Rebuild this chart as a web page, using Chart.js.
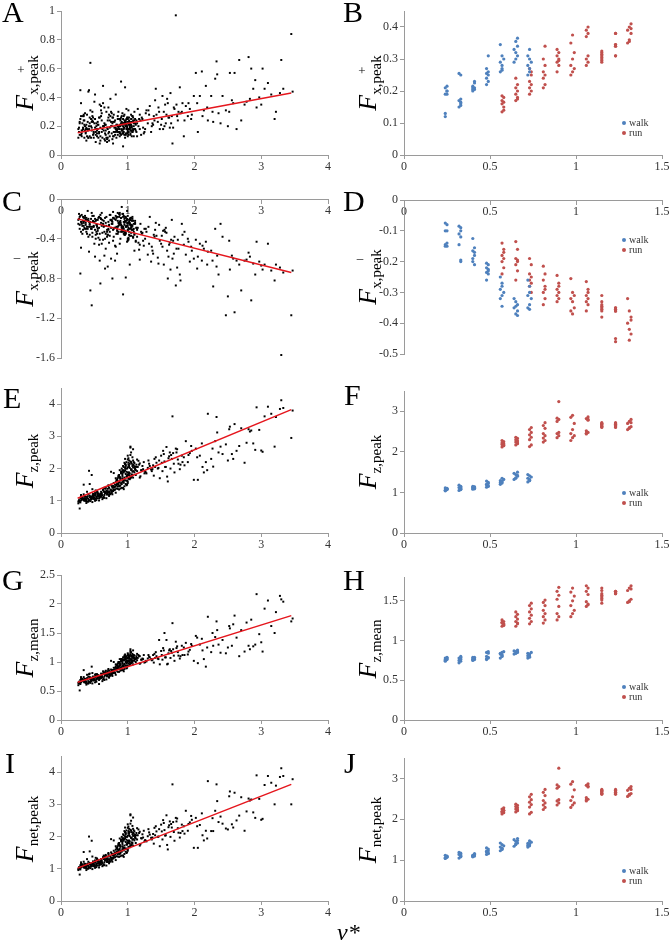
<!DOCTYPE html>
<html>
<head>
<meta charset="utf-8">
<script src="https://cdn.jsdelivr.net/npm/chart.js@4.4.1/dist/chart.umd.min.js"></script>
<style>
  body { margin: 0; width: 670px; height: 945px; position: relative; overflow: hidden; background: #fff;
         font-family: "Liberation Serif", "Times New Roman", serif; }
  canvas { position: absolute; }
  .lbl { position: absolute; font-size: 30px; line-height: 30px; color: #000; }
  .vstar { position: absolute; font-size: 24px; line-height: 30px; font-style: italic; }
  .ytitle { position: absolute; white-space: nowrap; line-height: 1; color: #000;
            transform: translate(-50%, -50%) rotate(-90deg); z-index: 2; }
  .ytitle i { font-size: 26px; }
  .ytitle span { font-size: 15px; position: relative; top: 5px; }
  .sign { position: absolute; font-size: 13px; line-height: 1; transform: translate(-50%, -50%); z-index: 2; }
  .leg { position: absolute; font-size: 10px; line-height: 10px; color: #333; z-index: 2; }
  .leg b { display: inline-block; width: 4px; height: 4px; border-radius: 50%; margin-right: 3px; vertical-align: 1px; }
</style>
</head>
<body>
<script>
// ---- all strides (left column), dimensionless speed v*
const vStar = [
  0.27, 0.29, 0.31, 0.33, 0.30, 0.28, 0.35, 0.32, 0.26, 0.34,
  0.36, 0.38, 0.40, 0.37, 0.42, 0.39, 0.41, 0.44, 0.43, 0.45,
  0.46, 0.48, 0.50, 0.47, 0.52, 0.49, 0.51, 0.53, 0.55, 0.54,
  0.56, 0.58, 0.57, 0.60, 0.59, 0.62, 0.61, 0.63, 0.64, 0.66,
  0.65, 0.67, 0.68, 0.70, 0.69, 0.71, 0.72, 0.74, 0.73, 0.75,
  0.76, 0.78, 0.77, 0.79, 0.80, 0.81, 0.82, 0.83, 0.84, 0.85,
  0.86, 0.87, 0.88, 0.89, 0.90, 0.91, 0.92, 0.93, 0.94, 0.95,
  0.96, 0.97, 0.98, 0.99, 1.00, 1.01, 1.02, 1.03, 1.04, 1.05,
  1.06, 1.07, 1.08, 1.09, 1.10, 0.88, 0.92, 0.96, 1.00, 1.04,
  0.31, 0.39, 0.47, 0.55, 0.63, 0.71, 0.79, 0.87, 0.95, 1.03,
  0.28, 0.36, 0.44, 0.52, 0.60, 0.68, 0.76, 0.84, 0.92, 1.00,
  0.33, 0.41, 0.49, 0.57, 0.65, 0.73, 0.81, 0.89, 0.97, 1.05,
  0.30, 0.38, 0.46, 0.54, 0.62, 0.70, 0.78, 0.86, 0.94, 1.02,
  0.82, 0.85, 0.88, 0.91, 0.94, 0.97, 1.00, 1.03, 1.06, 1.09,
  0.80, 0.84, 0.87, 0.90, 0.93, 0.98, 1.01, 1.04, 1.08, 1.11,
  0.35, 0.43, 0.51, 0.59, 0.67, 0.75, 0.83, 0.91, 0.99, 1.07,
  0.29, 0.37, 0.45, 0.53, 0.61, 0.69, 0.77, 0.85, 0.93, 1.01,
  0.90, 0.92, 0.95, 0.97, 0.99, 1.02, 1.04, 1.06, 1.08, 1.12,
  0.42, 0.48, 0.58, 0.66, 0.72, 0.78, 0.86, 0.94, 1.00, 1.10,
  0.26, 0.34, 0.40, 0.50, 0.56, 0.64, 0.74, 0.88, 0.96, 1.13,
  1.12, 1.15, 1.18, 1.21, 1.24, 1.27, 1.30, 1.14, 1.19, 1.23,
  1.33, 1.36, 1.39, 1.42, 1.45, 1.48, 1.28, 1.17, 1.35, 1.41,
  1.51, 1.54, 1.57, 1.60, 1.63, 1.66, 1.69, 1.52, 1.58, 1.64,
  1.72, 1.75, 1.78, 1.81, 1.67, 1.73, 1.79, 1.55, 1.62, 1.70,
  1.84, 1.87, 1.90, 1.93, 1.96, 1.99, 1.85, 1.91, 1.47, 1.38,
  2.02, 2.05, 2.08, 2.11, 2.14, 2.17, 2.20, 2.04, 2.12, 2.19,
  2.25, 2.28, 2.31, 2.33, 2.36, 2.39, 2.42, 2.34, 2.27, 2.47,
  2.50, 2.53, 2.56, 2.60, 2.63, 2.67, 2.70, 2.58, 2.52, 2.75,
  2.78, 2.81, 2.85, 2.88, 2.91, 2.93, 2.97, 3.00, 2.83, 3.02,
  3.05, 3.10, 3.15, 3.20, 3.22, 3.28, 3.30, 3.33, 3.45, 3.47,
  0.32, 0.37, 0.43, 0.49, 0.55, 0.61, 0.67, 0.73, 0.79, 0.85,
  0.89, 0.91, 0.93, 0.95, 0.97, 0.99, 1.01, 1.03, 1.05, 1.07,
  0.27, 0.35, 0.41, 0.47, 0.53, 0.59, 0.65, 0.71, 0.77, 0.83,
  0.87, 0.90, 0.93, 0.96, 0.98, 1.00, 1.02, 1.04, 1.06, 1.09,
  0.30, 0.34, 0.38, 0.46, 0.52, 0.58, 0.64, 0.70, 0.76, 0.82,
  0.84, 0.88, 0.91, 0.94, 0.97, 1.00, 1.03, 1.05, 1.08, 1.11,
  0.33, 0.39, 0.45, 0.51, 0.57, 0.63, 0.69, 0.75, 0.81, 0.86,
  0.92, 0.95, 0.98, 1.01, 1.04, 1.07, 1.10, 1.13, 1.16, 1.20,
  0.28, 0.31, 0.36, 0.42, 0.48, 0.54, 0.60, 0.66, 0.72, 0.78,
  0.89, 0.93, 0.96, 0.99, 1.02, 1.05, 1.08, 1.11, 1.14, 1.18,
  1.22, 1.26, 1.31, 1.37, 1.43, 1.50, 1.56, 1.61, 1.68, 1.76,
  1.25, 1.32, 1.40, 1.46, 1.53, 1.59, 1.65, 1.74, 1.82, 1.95
];

const fxPos = [
  0.16, 0.45, 0.15, 0.19, 0.36, 0.14, 0.21, 0.17, 0.18, 0.27,
  0.20, 0.10, 0.23, 0.16, 0.45, 0.18, 0.44, 0.64, 0.13, 0.25,
  0.19, 0.14, 0.22, 0.30, 0.16, 0.12, 0.42, 0.20, 0.23, 0.17,
  0.21, 0.08, 0.15, 0.34, 0.19, 0.12, 0.24, 0.48, 0.17, 0.10,
  0.22, 0.14, 0.30, 0.18, 0.09, 0.26, 0.16, 0.39, 0.13, 0.20,
  0.15, 0.23, 0.11, 0.28, 0.19, 0.14, 0.42, 0.21, 0.17, 0.25,
  0.16, 0.20, 0.13, 0.24, 0.51, 0.18, 0.22, 0.06, 0.27, 0.19,
  0.47, 0.15, 0.21, 0.18, 0.26, 0.14, 0.23, 0.19, 0.17, 0.28,
  0.20, 0.16, 0.24, 0.13, 0.30, 0.21, 0.15, 0.12, 0.25, 0.19,
  0.13, 0.28, 0.24, 0.18, 0.20, 0.33, 0.16, 0.25, 0.14, 0.21,
  0.22, 0.17, 0.31, 0.14, 0.27, 0.12, 0.20, 0.18, 0.29, 0.23,
  0.18, 0.12, 0.16, 0.26, 0.11, 0.19, 0.24, 0.15, 0.22, 0.17,
  0.27, 0.21, 0.17, 0.13, 0.18, 0.24, 0.08, 0.20, 0.16, 0.26,
  0.19, 0.27, 0.15, 0.21, 0.18, 0.24, 0.13, 0.22, 0.17, 0.20,
  0.23, 0.16, 0.20, 0.14, 0.25, 0.18, 0.21, 0.15, 0.23, 0.18,
  0.12, 0.22, 0.19, 0.13, 0.21, 0.30, 0.17, 0.23, 0.19, 0.27,
  0.25, 0.15, 0.12, 0.22, 0.16, 0.19, 0.26, 0.14, 0.20, 0.16,
  0.22, 0.17, 0.24, 0.20, 0.15, 0.18, 0.21, 0.13, 0.26, 0.17,
  0.18, 0.23, 0.35, 0.15, 0.28, 0.13, 0.19, 0.22, 0.16, 0.24,
  0.12, 0.24, 0.17, 0.37, 0.12, 0.20, 0.27, 0.18, 0.23, 0.16,
  0.21, 0.32, 0.18, 0.26, 0.15, 0.29, 0.22, 0.13, 0.24, 0.19,
  0.34, 0.20, 0.27, 0.46, 0.23, 0.18, 0.31, 0.25, 0.16, 0.38,
  0.25, 0.30, 0.22, 0.36, 0.19, 0.27, 0.33, 0.41, 0.28, 0.43,
  0.97, 0.24, 0.47, 0.30, 0.08, 0.35, 0.29, 0.20, 0.26, 0.32,
  0.13, 0.34, 0.27, 0.32, 0.28, 0.41, 0.24, 0.36, 0.30, 0.21,
  0.57, 0.16, 0.41, 0.58, 0.31, 0.48, 0.24, 0.36, 0.27, 0.33,
  0.41, 0.23, 0.53, 0.65, 0.29, 0.22, 0.41, 0.56, 0.30, 0.31,
  0.20, 0.57, 0.38, 0.57, 0.18, 0.66, 0.24, 0.36, 0.30, 0.35,
  0.37, 0.68, 0.60, 0.46, 0.52, 0.33, 0.40, 0.35, 0.39, 0.60,
  0.46, 0.50, 0.42, 0.25, 0.30, 0.43, 0.66, 0.46, 0.84, 0.44,
  0.22, 0.18, 0.26, 0.15, 0.21, 0.29, 0.17, 0.24, 0.13, 0.20,
  0.25, 0.17, 0.22, 0.28, 0.14, 0.20, 0.31, 0.18, 0.23, 0.16,
  0.19, 0.24, 0.12, 0.27, 0.18, 0.10, 0.33, 0.15, 0.22, 0.12,
  0.18, 0.26, 0.15, 0.21, 0.32, 0.17, 0.24, 0.14, 0.19, 0.22,
  0.14, 0.28, 0.19, 0.23, 0.09, 0.26, 0.20, 0.12, 0.29, 0.18,
  0.21, 0.16, 0.27, 0.19, 0.23, 0.15, 0.20, 0.25, 0.18, 0.22,
  0.27, 0.13, 0.20, 0.25, 0.16, 0.36, 0.11, 0.23, 0.16, 0.30,
  0.17, 0.22, 0.25, 0.16, 0.21, 0.27, 0.18, 0.24, 0.20, 0.14,
  0.23, 0.17, 0.29, 0.20, 0.26, 0.15, 0.31, 0.21, 0.10, 0.26,
  0.20, 0.15, 0.23, 0.26, 0.18, 0.21, 0.17, 0.25, 0.22, 0.28,
  0.25, 0.18, 0.31, 0.22, 0.28, 0.21, 0.35, 0.26, 0.19, 0.30,
  0.16, 0.28, 0.24, 0.33, 0.18, 0.39, 0.22, 0.27, 0.36, 0.25
];

const fxNeg = [
  -0.20, -0.75, -0.24, -0.18, -0.49, -0.30, -0.22, -0.35, -0.21, -0.27,
  -0.19, -0.33, -0.12, -0.26, -0.53, -0.21, -0.38, -0.92, -0.25, -0.30,
  -1.07, -0.23, -0.45, -0.17, -0.36, -0.28, -0.58, -0.21, -0.32, -0.26,
  -0.19, -0.62, -0.29, -0.24, -0.85, -0.34, -0.14, -0.41, -0.22, -0.70,
  -0.27, -0.50, -0.18, -0.68, -0.31, -0.23, -0.44, -0.16, -0.37, -0.60,
  -0.25, -0.13, -0.80, -0.30, -0.20, -0.47, -0.17, -0.28, -0.55, -0.22,
  -0.33, -0.15, -0.26, -0.40, -0.19, -0.08, -0.31, -0.96, -0.23, -0.36,
  -0.18, -0.79, -0.27, -0.12, -0.42, -0.24, -0.30, -0.66, -0.21, -0.34,
  -0.28, -0.20, -0.38, -0.25, -0.52, -0.14, -0.29, -0.22, -0.17, -0.26,
  -0.16, -0.28, -0.34, -0.21, -0.25, -0.30, -0.38, -0.18, -0.24, -0.20,
  -0.26, -0.17, -0.23, -0.40, -0.20, -0.27, -0.22, -0.32, -0.15, -0.31,
  -0.31, -0.20, -0.27, -0.18, -0.33, -0.16, -0.29, -0.24, -0.35, -0.19,
  -0.23, -0.30, -0.14, -0.28, -0.21, -0.36, -0.19, -0.27, -0.30, -0.23,
  -0.21, -0.35, -0.16, -0.28, -0.32, -0.19, -0.25, -0.37, -0.22, -0.30,
  -0.29, -0.18, -0.24, -0.33, -0.15, -0.27, -0.39, -0.21, -0.31, -0.24,
  -0.22, -0.26, -0.31, -0.16, -0.35, -0.21, -0.19, -0.29, -0.43, -0.18,
  -0.17, -0.24, -0.20, -0.33, -0.27, -0.38, -0.23, -0.14, -0.28, -0.40,
  -0.26, -0.33, -0.20, -0.28, -0.24, -0.36, -0.19, -0.31, -0.22, -0.42,
  -0.28, -0.22, -0.35, -0.19, -0.26, -0.42, -0.33, -0.17, -0.27, -0.35,
  -0.25, -0.19, -0.30, -0.23, -0.39, -0.28, -0.21, -0.45, -0.32, -0.29,
  -0.43, -0.29, -0.61, -0.35, -0.47, -0.30, -0.56, -0.38, -0.25, -0.42,
  -0.18, -0.48, -0.36, -0.24, -0.59, -0.42, -0.33, -0.51, -0.63, -0.31,
  -0.37, -0.66, -0.29, -0.80, -0.44, -0.21, -0.55, -0.48, -0.34, -0.71,
  -0.87, -0.41, -0.76, -0.25, -0.60, -0.50, -0.82, -0.31, -0.46, -0.38,
  -0.46, -0.56, -0.40, -0.63, -0.52, -0.60, -0.33, -0.43, -0.26, -0.55,
  -0.41, -0.58, -0.45, -0.62, -0.50, -0.43, -0.53, -0.70, -0.47, -0.66,
  -0.52, -0.88, -0.30, -0.68, -0.76, -0.25, -0.38, -0.57, -0.62, -1.17,
  -0.98, -0.71, -0.57, -1.14, -0.62, -0.66, -0.92, -0.60, -0.42, -0.62,
  -0.61, -0.54, -1.02, -0.65, -0.76, -0.43, -0.63, -0.67, -0.58, -0.71,
  -0.66, -0.45, -0.72, -0.82, -0.66, -0.69, -1.57, -0.74, -1.17, -0.72,
  -0.27, -0.21, -0.36, -0.17, -0.30, -0.45, -0.24, -0.33, -0.19, -0.28,
  -0.22, -0.31, -0.18, -0.26, -0.34, -0.20, -0.29, -0.24, -0.37, -0.27,
  -0.15, -0.29, -0.22, -0.38, -0.26, -0.19, -0.57, -0.31, -0.25, -0.35,
  -0.25, -0.19, -0.32, -0.23, -0.28, -0.40, -0.21, -0.30, -0.26, -0.33,
  -0.33, -0.24, -0.19, -0.30, -0.22, -0.41, -0.27, -0.36, -0.21, -0.48,
  -0.30, -0.23, -0.27, -0.35, -0.18, -0.32, -0.25, -0.29, -0.38, -0.22,
  -0.22, -0.35, -0.28, -0.20, -0.46, -0.25, -0.33, -0.29, -0.62, -0.24,
  -0.28, -0.34, -0.22, -0.41, -0.26, -0.31, -0.36, -0.29, -0.44, -0.33,
  -0.18, -0.25, -0.30, -0.23, -0.28, -0.35, -0.20, -0.40, -0.27, -0.31,
  -0.24, -0.29, -0.36, -0.21, -0.33, -0.27, -0.39, -0.25, -0.31, -0.46,
  -0.34, -0.40, -0.28, -0.52, -0.37, -0.45, -0.33, -0.58, -0.42, -0.50,
  -0.30, -0.45, -0.38, -0.65, -0.32, -0.52, -0.41, -0.69, -0.36, -0.48
];

const fzPeak = [
  1.02, 0.95, 1.10, 1.05, 1.18, 0.76, 1.00, 1.12, 0.98, 1.50,
  1.06, 0.93, 1.14, 1.01, 1.93, 1.08, 1.20, 0.99, 1.11, 1.04,
  1.80, 1.12, 1.05, 0.96, 1.19, 1.09, 1.24, 1.02, 1.15, 1.08,
  1.22, 1.10, 1.01, 1.28, 1.15, 1.05, 1.20, 1.33, 1.12, 1.26,
  1.18, 1.38, 1.08, 1.30, 1.22, 1.45, 1.15, 1.35, 1.25, 1.90,
  1.28, 1.41, 1.20, 1.86, 1.33, 1.50, 1.25, 1.38, 1.62, 1.44,
  1.55, 1.35, 1.72, 1.48, 1.90, 1.40, 1.83, 1.58, 2.05, 1.65,
  1.95, 1.52, 2.20, 1.75, 2.40, 1.68, 2.10, 1.85, 2.65, 1.98,
  2.15, 1.80, 2.25, 1.92, 2.05, 1.62, 1.77, 2.30, 1.60, 2.68,
  1.03, 1.12, 1.16, 1.21, 1.09, 1.27, 1.35, 1.46, 1.72, 2.02,
  0.99, 1.08, 1.13, 1.06, 1.18, 1.31, 1.24, 1.52, 1.94, 1.88,
  1.07, 0.98, 1.17, 1.14, 1.29, 1.20, 1.44, 1.68, 2.12, 1.73,
  1.13, 1.03, 1.10, 1.25, 1.16, 1.37, 1.30, 1.78, 1.56, 2.25,
  1.58, 1.70, 1.45, 1.88, 1.62, 2.00, 1.82, 2.15, 1.95, 2.20,
  1.42, 1.65, 1.80, 1.55, 2.08, 1.90, 2.18, 1.72, 2.03, 1.98,
  1.04, 1.16, 1.00, 1.19, 1.27, 1.33, 1.47, 1.86, 1.78, 2.08,
  1.08, 1.00, 1.07, 1.13, 1.24, 1.19, 1.41, 1.60, 1.92, 1.80,
  1.85, 1.70, 2.18, 1.63, 2.00, 1.88, 2.22, 1.76, 2.12, 1.95,
  1.01, 1.06, 1.19, 1.23, 1.40, 1.32, 1.52, 1.88, 2.04, 2.17,
  0.92, 1.02, 0.97, 1.10, 1.17, 1.28, 1.21, 1.95, 2.02, 2.12,
  1.80, 2.05, 1.72, 1.95, 2.20, 1.88, 2.02, 2.28, 1.76, 1.98,
  2.08, 1.92, 1.78, 2.35, 2.00, 1.70, 1.85, 2.12, 1.97, 2.05,
  2.18, 2.45, 2.05, 1.60, 2.50, 2.30, 2.15, 1.92, 2.67, 2.00,
  2.62, 2.28, 1.98, 2.40, 3.62, 2.50, 2.12, 2.22, 2.38, 1.88,
  2.35, 2.85, 2.20, 2.48, 2.55, 1.65, 2.10, 2.42, 2.25, 2.10,
  2.62, 1.65, 2.40, 2.78, 1.88, 2.20, 3.70, 2.35, 2.05, 1.95,
  2.30, 2.06, 2.85, 3.60, 2.50, 2.68, 2.45, 3.12, 2.62, 2.75,
  2.25, 3.30, 2.45, 3.38, 2.55, 2.70, 3.25, 2.30, 3.22, 2.18,
  2.80, 3.22, 3.18, 2.78, 2.58, 3.90, 3.20, 2.56, 3.15, 2.52,
  3.62, 3.92, 3.70, 2.68, 3.60, 3.85, 4.12, 3.88, 2.95, 3.80,
  1.10, 1.04, 1.52, 1.15, 1.26, 1.18, 1.42, 1.29, 1.55, 1.37,
  1.70, 1.52, 1.95, 1.45, 2.08, 1.62, 2.32, 1.78, 2.50, 1.90,
  0.97, 1.14, 1.06, 1.36, 1.12, 1.22, 1.09, 1.48, 1.31, 1.64,
  1.58, 1.88, 1.40, 2.15, 1.75, 1.55, 2.05, 2.42, 1.82, 2.10,
  1.01, 1.20, 0.99, 1.10, 1.32, 1.15, 1.40, 1.22, 1.45, 1.70,
  1.50, 1.74, 2.00, 1.36, 1.83, 2.28, 1.67, 1.96, 2.60, 2.06,
  1.06, 1.28, 1.12, 1.18, 1.08, 1.34, 1.26, 1.50, 1.35, 1.74,
  1.60, 1.92, 1.48, 2.12, 1.70, 2.35, 1.88, 2.05, 2.24, 1.95,
  1.00, 1.07, 1.13, 1.02, 1.21, 1.30, 1.12, 1.38, 1.19, 1.46,
  1.38, 1.66, 2.14, 1.50, 1.84, 2.20, 1.72, 2.00, 1.92, 2.16,
  2.08, 1.90, 2.25, 1.98, 2.18, 2.40, 2.05, 2.32, 2.48, 2.15,
  1.85, 2.15, 2.30, 2.02, 2.55, 1.75, 2.42, 2.60, 2.20, 2.70
];

const fzMean = [
  0.66, 0.62, 0.70, 0.68, 0.74, 0.51, 0.65, 0.71, 0.64, 0.86,
  0.68, 0.61, 0.72, 0.66, 0.79, 0.70, 0.75, 0.64, 0.71, 0.67,
  0.92, 0.72, 0.69, 0.63, 0.76, 0.70, 0.78, 0.66, 0.74, 0.71,
  0.77, 0.71, 0.62, 0.80, 0.74, 0.67, 0.76, 0.84, 0.72, 0.79,
  0.75, 0.85, 0.70, 0.81, 0.77, 0.88, 0.73, 0.83, 0.79, 1.02,
  0.80, 0.86, 0.76, 1.00, 0.82, 0.90, 0.78, 0.85, 0.95, 0.88,
  0.92, 0.83, 0.98, 0.89, 1.05, 0.86, 1.02, 0.93, 1.08, 0.96,
  1.04, 0.91, 1.10, 0.99, 1.15, 0.97, 1.08, 1.01, 1.22, 1.05,
  1.09, 1.00, 1.12, 1.03, 1.07, 0.94, 0.99, 1.13, 0.93, 1.19,
  0.67, 0.72, 0.73, 0.77, 0.70, 0.79, 0.83, 0.88, 0.97, 1.06,
  0.64, 0.69, 0.73, 0.68, 0.75, 0.81, 0.78, 0.90, 1.04, 1.02,
  0.69, 0.63, 0.74, 0.72, 0.80, 0.76, 0.87, 0.95, 1.09, 0.98,
  0.72, 0.66, 0.70, 0.78, 0.74, 0.84, 0.81, 1.00, 0.92, 1.11,
  0.92, 0.97, 0.88, 1.03, 0.94, 1.06, 1.01, 1.10, 1.04, 1.12,
  0.86, 0.95, 1.00, 0.91, 1.08, 1.03, 1.11, 0.98, 1.07, 1.05,
  0.67, 0.74, 0.65, 0.75, 0.79, 0.82, 0.88, 1.02, 1.00, 1.08,
  0.69, 0.64, 0.68, 0.72, 0.77, 0.75, 0.86, 0.93, 1.04, 1.01,
  1.02, 0.97, 1.11, 0.94, 1.06, 1.03, 1.13, 0.99, 1.10, 1.05,
  0.65, 0.68, 0.75, 0.77, 0.85, 0.82, 0.90, 1.03, 1.07, 1.11,
  0.60, 0.66, 0.63, 0.70, 0.74, 0.80, 0.77, 1.05, 1.06, 1.10,
  1.00, 1.07, 0.97, 1.04, 1.12, 1.02, 1.06, 1.14, 0.98, 1.05,
  1.08, 1.03, 0.99, 1.17, 1.06, 0.96, 1.01, 1.10, 1.05, 1.07,
  1.12, 1.20, 1.08, 0.97, 1.22, 1.16, 1.11, 1.04, 1.38, 1.07,
  1.35, 1.17, 1.06, 1.28, 1.67, 1.24, 1.10, 1.50, 1.20, 1.02,
  1.25, 1.33, 1.13, 1.21, 1.28, 1.02, 1.12, 1.18, 1.38, 1.12,
  1.45, 0.98, 1.30, 1.40, 1.05, 0.92, 1.78, 1.42, 1.20, 1.25,
  1.17, 1.28, 1.43, 1.70, 1.30, 1.16, 1.38, 1.55, 1.50, 1.15,
  1.25, 1.58, 1.28, 1.80, 1.42, 1.10, 1.55, 1.65, 1.62, 1.18,
  1.68, 1.28, 1.73, 1.27, 1.30, 2.17, 1.48, 1.34, 1.22, 1.18,
  1.92, 2.06, 1.62, 1.50, 1.86, 2.14, 2.08, 2.04, 1.70, 1.75,
  0.69, 0.66, 0.80, 0.72, 0.77, 0.74, 0.84, 0.79, 0.90, 0.83,
  0.96, 0.90, 1.04, 0.88, 1.08, 0.94, 1.13, 0.99, 1.17, 1.02,
  0.63, 0.71, 0.67, 0.81, 0.70, 0.75, 0.69, 0.86, 0.80, 0.94,
  0.92, 1.01, 0.86, 1.10, 0.98, 0.93, 1.06, 1.16, 1.00, 1.08,
  0.65, 0.74, 0.64, 0.70, 0.79, 0.72, 0.82, 0.76, 0.85, 0.96,
  0.89, 0.97, 1.05, 0.84, 1.00, 1.12, 0.95, 1.03, 1.20, 1.06,
  0.68, 0.78, 0.71, 0.74, 0.69, 0.80, 0.77, 0.87, 0.81, 0.98,
  0.93, 1.03, 0.89, 1.09, 0.97, 1.14, 1.02, 1.07, 1.12, 1.04,
  0.64, 0.68, 0.71, 0.66, 0.75, 0.79, 0.72, 0.82, 0.74, 0.86,
  0.85, 0.94, 1.09, 0.90, 1.01, 1.11, 0.96, 1.05, 1.03, 1.10,
  1.06, 1.00, 1.12, 1.04, 1.10, 1.19, 1.08, 1.15, 1.22, 1.11,
  0.99, 1.09, 1.14, 1.05, 1.24, 0.96, 1.19, 1.27, 1.12, 1.31
];

const fnetPeak = [
  1.05, 0.98, 1.12, 1.08, 1.20, 0.82, 1.03, 1.14, 1.00, 1.52,
  1.09, 0.96, 1.16, 1.04, 2.00, 1.10, 1.22, 1.02, 1.13, 1.07,
  1.87, 1.14, 1.08, 0.99, 1.21, 1.11, 1.26, 1.05, 1.17, 1.10,
  1.24, 1.12, 1.04, 1.30, 1.17, 1.08, 1.22, 1.35, 1.14, 1.28,
  1.20, 1.40, 1.10, 1.32, 1.24, 1.46, 1.17, 1.37, 1.27, 1.92,
  1.30, 1.42, 1.22, 1.88, 1.35, 1.51, 1.27, 1.39, 1.63, 1.45,
  1.56, 1.37, 1.72, 1.49, 1.90, 1.41, 1.83, 1.58, 2.04, 1.65,
  1.95, 1.53, 2.19, 1.75, 2.38, 1.68, 2.09, 1.85, 2.66, 1.97,
  2.14, 1.80, 2.24, 1.92, 2.04, 1.62, 1.77, 2.28, 1.60, 2.69,
  1.06, 1.14, 1.18, 1.23, 1.11, 1.29, 1.36, 1.47, 1.72, 2.01,
  1.02, 1.10, 1.15, 1.09, 1.20, 1.32, 1.26, 1.53, 1.93, 1.87,
  1.10, 1.01, 1.19, 1.16, 1.31, 1.22, 1.45, 1.68, 2.11, 1.73,
  1.15, 1.06, 1.12, 1.27, 1.18, 1.38, 1.32, 1.78, 1.57, 2.24,
  1.59, 1.70, 1.46, 1.87, 1.62, 1.99, 1.82, 2.14, 1.95, 2.19,
  1.43, 1.65, 1.80, 1.56, 2.07, 1.90, 2.17, 1.72, 2.02, 1.97,
  1.07, 1.18, 1.03, 1.21, 1.29, 1.34, 1.48, 1.86, 1.78, 2.07,
  1.11, 1.03, 1.09, 1.15, 1.26, 1.21, 1.42, 1.60, 1.91, 1.80,
  1.85, 1.70, 2.17, 1.63, 1.99, 1.88, 2.21, 1.76, 2.11, 1.94,
  1.04, 1.08, 1.21, 1.25, 1.41, 1.34, 1.53, 1.87, 2.03, 2.16,
  0.96, 1.05, 1.00, 1.12, 1.19, 1.30, 1.23, 1.94, 2.01, 2.11,
  1.80, 2.04, 1.72, 1.94, 2.18, 1.87, 2.01, 2.26, 1.76, 1.97,
  2.06, 1.91, 1.78, 2.32, 1.99, 1.70, 1.85, 2.11, 1.96, 2.04,
  2.16, 2.42, 2.04, 1.60, 2.47, 2.28, 2.14, 1.91, 2.66, 1.99,
  2.58, 2.26, 1.97, 2.37, 3.62, 2.47, 2.11, 2.20, 2.35, 1.87,
  2.32, 2.80, 2.18, 2.44, 2.52, 1.65, 2.09, 2.39, 2.23, 2.08,
  2.58, 1.65, 2.36, 2.72, 1.88, 2.18, 3.72, 2.32, 2.04, 1.94,
  2.17, 2.17, 2.80, 3.62, 2.45, 2.62, 2.40, 3.10, 2.57, 2.25,
  2.22, 3.40, 2.38, 3.36, 2.50, 2.65, 3.22, 2.28, 3.25, 2.18,
  2.78, 3.18, 3.15, 2.75, 2.58, 3.90, 3.17, 2.52, 3.12, 2.55,
  3.60, 3.88, 3.67, 3.00, 3.58, 3.85, 4.12, 3.88, 3.00, 3.78,
  1.12, 1.07, 1.54, 1.17, 1.28, 1.20, 1.43, 1.30, 1.56, 1.38,
  1.70, 1.53, 1.95, 1.46, 2.07, 1.62, 2.31, 1.78, 2.49, 1.90,
  1.00, 1.16, 1.09, 1.38, 1.14, 1.24, 1.11, 1.49, 1.32, 1.65,
  1.59, 1.88, 1.41, 2.14, 1.75, 1.56, 2.04, 2.40, 1.82, 2.09,
  1.04, 1.22, 1.02, 1.12, 1.34, 1.17, 1.41, 1.24, 1.46, 1.70,
  1.51, 1.74, 1.99, 1.37, 1.83, 2.27, 1.67, 1.96, 2.59, 2.05,
  1.09, 1.30, 1.14, 1.20, 1.10, 1.36, 1.28, 1.51, 1.36, 1.74,
  1.61, 1.92, 1.49, 2.11, 1.70, 2.33, 1.88, 2.04, 2.22, 1.95,
  1.03, 1.10, 1.15, 1.05, 1.23, 1.32, 1.14, 1.39, 1.21, 1.47,
  1.39, 1.66, 2.13, 1.51, 1.84, 2.19, 1.72, 1.99, 1.91, 2.15,
  2.07, 1.89, 2.23, 1.97, 2.16, 2.37, 2.03, 2.29, 2.45, 2.12,
  1.85, 2.13, 2.27, 2.00, 2.51, 1.74, 2.39, 2.56, 2.17, 2.64
];

// least-squares lines (end points)
const fitX        = [0.25, 3.45];
const fitFxPos    = [0.155, 0.43];
const fitFxNeg    = [-0.20, -0.74];
const fitFzPeak   = [1.08, 3.83];
const fitFzMean   = [0.65, 1.80];
const fitFnetPeak = [1.02, 3.62];

// ---- one subject, walk and run trials (right column)
const walkX = [
  0.24, 0.24, 0.25, 0.25, 0.24, 0.25, 0.25, 0.24,
  0.32, 0.33, 0.33, 0.32, 0.33, 0.32, 0.33, 0.33,
  0.40, 0.41, 0.40, 0.41, 0.41, 0.40, 0.41, 0.40,
  0.48, 0.49, 0.48, 0.49, 0.49, 0.48, 0.49, 0.48,
  0.56, 0.57, 0.57, 0.56, 0.58, 0.57, 0.56, 0.57,
  0.64, 0.65, 0.66, 0.65, 0.64, 0.66, 0.65, 0.66,
  0.72, 0.73, 0.73, 0.72, 0.74, 0.73, 0.72, 0.73
];
const runX = [
  0.57, 0.58, 0.57, 0.58, 0.57, 0.58, 0.57, 0.58,
  0.65, 0.66, 0.65, 0.66, 0.65, 0.66, 0.65, 0.66,
  0.73, 0.74, 0.73, 0.74, 0.73, 0.74, 0.73, 0.74,
  0.81, 0.82, 0.81, 0.82, 0.81, 0.82, 0.81, 0.82,
  0.89, 0.90, 0.89, 0.90, 0.89, 0.90, 0.89, 0.90,
  0.97, 0.98, 0.99, 0.97, 0.98, 0.99, 0.97, 0.98,
  1.06, 1.07, 1.06, 1.07, 1.06, 1.07, 1.06, 1.07,
  1.15, 1.15, 1.15, 1.15, 1.15, 1.15, 1.15, 1.15,
  1.23, 1.23, 1.23, 1.23, 1.23, 1.23, 1.23, 1.23,
  1.30, 1.31, 1.32, 1.30, 1.31, 1.32, 1.31, 1.32
];

const walkFxPos = [
  0.12, 0.13, 0.19, 0.20, 0.21, 0.215, 0.20, 0.19,
  0.15, 0.16, 0.165, 0.17, 0.25, 0.255, 0.155, 0.175,
  0.20, 0.205, 0.21, 0.225, 0.23, 0.215, 0.21, 0.205,
  0.22, 0.23, 0.24, 0.25, 0.26, 0.27, 0.31, 0.255,
  0.26, 0.27, 0.28, 0.29, 0.30, 0.31, 0.345, 0.265,
  0.29, 0.30, 0.31, 0.32, 0.33, 0.34, 0.355, 0.365,
  0.25, 0.26, 0.27, 0.28, 0.29, 0.30, 0.31, 0.33
];
const runFxPos = [
  0.135, 0.14, 0.16, 0.165, 0.17, 0.18, 0.185, 0.15,
  0.17, 0.18, 0.19, 0.20, 0.21, 0.22, 0.24, 0.175,
  0.19, 0.20, 0.21, 0.22, 0.23, 0.25, 0.27, 0.26,
  0.21, 0.22, 0.24, 0.25, 0.26, 0.28, 0.30, 0.34,
  0.26, 0.28, 0.29, 0.30, 0.31, 0.32, 0.33, 0.295,
  0.25, 0.26, 0.27, 0.28, 0.30, 0.32, 0.35, 0.375,
  0.28, 0.29, 0.30, 0.31, 0.37, 0.38, 0.39, 0.40,
  0.29, 0.30, 0.31, 0.32, 0.325, 0.295, 0.305, 0.315,
  0.31, 0.34, 0.345, 0.38, 0.31, 0.34, 0.38, 0.345,
  0.35, 0.36, 0.38, 0.39, 0.40, 0.41, 0.355, 0.395
];

const walkFxNeg = [
  -0.075, -0.10, -0.14, -0.15, -0.145, -0.10, -0.08, -0.15,
  -0.085, -0.09, -0.10, -0.11, -0.12, -0.145, -0.195, -0.20,
  -0.125, -0.155, -0.165, -0.17, -0.18, -0.19, -0.21, -0.20,
  -0.205, -0.21, -0.22, -0.225, -0.23, -0.235, -0.24, -0.26,
  -0.25, -0.27, -0.28, -0.29, -0.30, -0.31, -0.32, -0.345,
  -0.32, -0.33, -0.34, -0.345, -0.35, -0.36, -0.37, -0.375,
  -0.26, -0.28, -0.30, -0.31, -0.32, -0.34, -0.35, -0.355
];
const runFxNeg = [
  -0.14, -0.16, -0.18, -0.19, -0.20, -0.22, -0.24, -0.17,
  -0.135, -0.16, -0.19, -0.20, -0.21, -0.23, -0.26, -0.195,
  -0.19, -0.21, -0.24, -0.25, -0.26, -0.27, -0.28, -0.30,
  -0.215, -0.24, -0.26, -0.28, -0.30, -0.32, -0.34, -0.29,
  -0.245, -0.27, -0.29, -0.30, -0.31, -0.32, -0.33, -0.28,
  -0.255, -0.30, -0.31, -0.32, -0.33, -0.35, -0.36, -0.37,
  -0.265, -0.29, -0.31, -0.32, -0.33, -0.34, -0.36, -0.30,
  -0.31, -0.33, -0.345, -0.355, -0.38, -0.34, -0.35, -0.36,
  -0.35, -0.36, -0.46, -0.355, -0.36, -0.45, -0.35, -0.36,
  -0.32, -0.36, -0.38, -0.40, -0.42, -0.435, -0.455, -0.39
];

const walkFzPeak = [
  1.04, 1.06, 1.08, 1.10, 1.05, 1.07, 1.09, 1.11,
  1.05, 1.08, 1.10, 1.12, 1.15, 1.18, 1.07, 1.13,
  1.08, 1.10, 1.12, 1.14, 1.09, 1.11, 1.13, 1.15,
  1.13, 1.16, 1.19, 1.22, 1.25, 1.28, 1.15, 1.20,
  1.20, 1.23, 1.26, 1.29, 1.32, 1.35, 1.24, 1.28,
  1.32, 1.35, 1.40, 1.44, 1.47, 1.50, 1.36, 1.42,
  1.26, 1.29, 1.32, 1.35, 1.38, 1.41, 1.44, 1.30
];
const runFzPeak = [
  2.12, 2.15, 2.18, 2.20, 2.22, 2.25, 2.28, 2.17,
  2.17, 2.20, 2.24, 2.27, 2.30, 2.33, 2.36, 2.22,
  2.13, 2.17, 2.30, 2.36, 2.42, 2.48, 2.55, 2.60,
  2.24, 2.28, 2.34, 2.40, 2.45, 2.58, 2.65, 2.72,
  2.35, 2.40, 2.45, 2.48, 2.75, 2.80, 2.83, 3.24,
  2.28, 2.35, 2.40, 2.45, 2.55, 2.70, 2.85, 2.90,
  2.44, 2.48, 2.52, 2.78, 2.82, 2.86, 2.46, 2.80,
  2.60, 2.63, 2.66, 2.69, 2.72, 2.62, 2.67, 2.70,
  2.60, 2.64, 2.68, 2.72, 2.62, 2.66, 2.70, 2.65,
  2.55, 2.58, 2.62, 2.70, 2.75, 2.80, 2.60, 2.72
];

const walkFzMean = [
  0.74, 0.76, 0.78, 0.77, 0.75, 0.79, 0.76, 0.78,
  0.72, 0.74, 0.76, 0.78, 0.80, 0.75, 0.77, 0.79,
  0.75, 0.77, 0.79, 0.76, 0.78, 0.77, 0.79, 0.76,
  0.76, 0.78, 0.80, 0.84, 0.86, 0.77, 0.79, 0.85,
  0.78, 0.80, 0.82, 0.84, 0.86, 0.81, 0.83, 0.85,
  0.83, 0.84, 0.85, 0.86, 0.87, 0.88, 0.84, 0.86,
  0.78, 0.80, 0.82, 0.84, 0.85, 0.79, 0.81, 0.83
];
const runFzMean = [
  1.18, 1.20, 1.22, 1.24, 1.26, 1.19, 1.23, 1.21,
  1.18, 1.21, 1.24, 1.27, 1.30, 1.33, 1.36, 1.22,
  1.21, 1.24, 1.28, 1.32, 1.36, 1.40, 1.44, 1.47,
  1.22, 1.26, 1.30, 1.34, 1.38, 1.44, 1.48, 1.51,
  1.26, 1.30, 1.34, 1.43, 1.52, 1.57, 1.62, 1.67,
  1.30, 1.34, 1.38, 1.44, 1.50, 1.56, 1.61, 1.66,
  1.43, 1.46, 1.49, 1.58, 1.62, 1.66, 1.69, 1.45,
  1.47, 1.51, 1.55, 1.59, 1.63, 1.66, 1.53, 1.57,
  1.59, 1.60, 1.61, 1.62, 1.60, 1.61, 1.59, 1.62,
  1.48, 1.50, 1.52, 1.63, 1.66, 1.69, 1.49, 1.65
];

const walkFnetPeak = [
  1.04, 1.06, 1.08, 1.10, 1.12, 1.07, 1.09, 1.05,
  1.05, 1.08, 1.11, 1.14, 1.17, 1.19, 1.09, 1.13,
  1.08, 1.10, 1.12, 1.14, 1.16, 1.11, 1.13, 1.09,
  1.14, 1.17, 1.20, 1.23, 1.27, 1.30, 1.16, 1.22,
  1.23, 1.26, 1.29, 1.32, 1.35, 1.38, 1.42, 1.28,
  1.34, 1.38, 1.42, 1.46, 1.50, 1.53, 1.40, 1.48,
  1.32, 1.35, 1.38, 1.41, 1.44, 1.47, 1.36, 1.40
];
const runFnetPeak = [
  2.13, 2.16, 2.19, 2.22, 2.25, 2.28, 2.18, 2.21,
  2.18, 2.21, 2.25, 2.28, 2.31, 2.34, 2.37, 2.23,
  2.13, 2.17, 2.30, 2.36, 2.42, 2.48, 2.55, 2.61,
  2.24, 2.29, 2.35, 2.40, 2.46, 2.58, 2.66, 2.73,
  2.35, 2.40, 2.45, 2.48, 2.76, 2.80, 2.84, 3.25,
  2.29, 2.35, 2.40, 2.46, 2.55, 2.72, 2.86, 2.92,
  2.45, 2.49, 2.53, 2.79, 2.83, 2.87, 2.47, 2.81,
  2.61, 2.64, 2.67, 2.70, 2.73, 2.63, 2.68, 2.71,
  2.61, 2.65, 2.69, 2.73, 2.63, 2.67, 2.71, 2.66,
  2.56, 2.59, 2.63, 2.71, 2.76, 2.80, 2.61, 2.73
];

// ---- tick labels
const leftXTicks  = [0, 1, 2, 3, 4];
const rightXTicks = [0, 0.5, 1, 1.5];
const ticksFxPos    = [0, 0.2, 0.4, 0.6, 0.8, 1];
const ticksFxPosB   = [0, 0.1, 0.2, 0.3, 0.4];
const ticksFxNeg    = [-1.6, -1.2, -0.8, -0.4, 0];
const ticksFxNegD   = [-0.5, -0.4, -0.3, -0.2, -0.1, 0];
const ticksFzPeak   = [0, 1, 2, 3, 4];
const ticksFzPeakF  = [0, 1, 2, 3];
const ticksFzMean   = [0, 0.5, 1, 1.5, 2, 2.5];
const ticksFzMeanH  = [0, 0.5, 1, 1.5];
const ticksFnet     = [0, 1, 2, 3, 4];
const ticksFnetJ    = [0, 1, 2, 3];

const serif = '"Liberation Serif", "Times New Roman", serif';
const axisGrey = '#9a9a9a';

function pts(xs, ys) {
  return xs.map((x, i) => ({ x: x, y: ys[i] }));
}

function leftSets(ys, fit) {
  return [
    { data: pts(fitX, fit), showLine: true, borderColor: '#e5161d', borderWidth: 1.5, pointRadius: 0 },
    { data: pts(vStar, ys), pointStyle: 'rect', pointRadius: 1.4, backgroundColor: '#000', borderWidth: 0 }
  ];
}

function rightSets(wy, ry) {
  return [
    { data: pts(walkX, wy), pointRadius: 1.6, backgroundColor: '#4f81bd', borderWidth: 0 },
    { data: pts(runX, ry), pointRadius: 1.6, backgroundColor: '#c0504d', borderWidth: 0 }
  ];
}

function panel(area, datasets, xTicks, xMax, yTicks, yMin, yMax, axisAtTop) {
  const padL = 50, padT = 10, padR = 14;
  const xh = axisAtTop ? 0 : 24;
  const padB = axisAtTop ? 20 : 0;
  const cv = document.createElement('canvas');
  cv.width = area.r - area.l + padL + padR;
  cv.height = area.b - area.t + padT + xh + padB;
  cv.style.left = (area.l - padL) + 'px';
  cv.style.top = (area.t - padT) + 'px';
  document.body.appendChild(cv);

  const tickFont = { family: serif, size: 12 };
  new Chart(cv, {
    type: 'scatter',
    data: { datasets: datasets },
    options: {
      responsive: false,
      animation: false,
      devicePixelRatio: 1,
      layout: { padding: { left: 0, top: padT, right: padR, bottom: padB } },
      plugins: { legend: { display: false }, tooltip: { enabled: false } },
      scales: {
        x: {
          type: 'linear', min: 0, max: xMax,
          position: axisAtTop ? { y: 0 } : 'bottom',
          afterBuildTicks: s => { s.ticks = xTicks.map(v => ({ value: v })); },
          afterFit: s => { s.height = xh; },
          ticks: { font: tickFont, color: '#333', padding: 1, autoSkip: false, maxRotation: 0,
                   callback: v => String(v) },
          grid: { drawOnChartArea: false, tickLength: 4, color: axisGrey },
          border: { color: axisGrey }
        },
        y: {
          type: 'linear', min: yMin, max: yMax,
          afterBuildTicks: s => { s.ticks = yTicks.map(v => ({ value: v })); },
          afterFit: s => { s.width = padL; },
          ticks: { font: tickFont, color: '#333', padding: 2, autoSkip: false,
                   callback: v => String(v) },
          grid: { drawOnChartArea: false, tickLength: 4, color: axisGrey },
          border: { color: axisGrey }
        }
      }
    }
  });
}

function addDiv(cls, html, left, top) {
  const d = document.createElement('div');
  d.className = cls;
  d.innerHTML = html;
  d.style.left = left + 'px';
  d.style.top = top + 'px';
  document.body.appendChild(d);
}

function yTitle(sub, cx, area) {
  addDiv('ytitle', '<i>F</i><span>' + sub + '</span>', cx, (area.t + area.b) / 2);
}

// walk entry centred on y, run entry 10px below
function legend(y) {
  addDiv('leg', '<b style="background:#4f81bd"></b>walk', 622, y - 5);
  addDiv('leg', '<b style="background:#c0504d"></b>run', 622, y + 5);
}

const aA = { l: 61, r: 328, t: 11, b: 155 },  aB = { l: 404, r: 662, t: 11, b: 155 };
const aC = { l: 61, r: 328, t: 199, b: 358 }, aD = { l: 404, r: 662, t: 200, b: 354 };
const aE = { l: 61, r: 328, t: 388, b: 533 }, aF = { l: 404, r: 662, t: 391, b: 533 };
const aG = { l: 61, r: 328, t: 575, b: 720 }, aH = { l: 404, r: 662, t: 577, b: 720 };
const aI = { l: 61, r: 328, t: 756, b: 901 }, aJ = { l: 404, r: 662, t: 758, b: 901 };

panel(aA, leftSets(fxPos, fitFxPos), leftXTicks, 4, ticksFxPos, 0, 1, false);
panel(aB, rightSets(walkFxPos, runFxPos), rightXTicks, 1.5, ticksFxPosB, 0, 0.45, false);
panel(aC, leftSets(fxNeg, fitFxNeg), leftXTicks, 4, ticksFxNeg, -1.6, 0, true);
panel(aD, rightSets(walkFxNeg, runFxNeg), rightXTicks, 1.5, ticksFxNegD, -0.5, 0, true);
panel(aE, leftSets(fzPeak, fitFzPeak), leftXTicks, 4, ticksFzPeak, 0, 4.5, false);
panel(aF, rightSets(walkFzPeak, runFzPeak), rightXTicks, 1.5, ticksFzPeakF, 0, 3.5, false);
panel(aG, leftSets(fzMean, fitFzMean), leftXTicks, 4, ticksFzMean, 0, 2.5, false);
panel(aH, rightSets(walkFzMean, runFzMean), rightXTicks, 1.5, ticksFzMeanH, 0, 1.8, false);
panel(aI, leftSets(fnetPeak, fitFnetPeak), leftXTicks, 4, ticksFnet, 0, 4.5, false);
panel(aJ, rightSets(walkFnetPeak, runFnetPeak), rightXTicks, 1.5, ticksFnetJ, 0, 3.5, false);

// panel letters
[['A', 2, -3], ['B', 343, -3], ['C', 2, 186], ['D', 343, 186], ['E', 3, 383], ['F', 344, 380],
 ['G', 2, 565], ['H', 343, 565], ['I', 5, 748], ['J', 344, 748]]
  .forEach(l => addDiv('lbl', l[0], l[1], l[2]));

// axis titles
yTitle('x,peak', 25, aA);   yTitle('x,peak', 368, aB);
yTitle('x,peak', 25, aC);   yTitle('x,peak', 368, aD);
yTitle('z,peak', 25, aE);   yTitle('z,peak', 368, aF);
yTitle('z,mean', 25, aG);   yTitle('z,mean', 368, aH);
yTitle('net,peak', 25, aI); yTitle('net,peak', 368, aJ);
addDiv('sign', '+', 21, 69);
addDiv('sign', '+', 362, 70);
addDiv('sign', '\u2013', 17, 256);
addDiv('sign', '\u2013', 360, 257);

legend(123);
legend(240);
legend(493);
legend(687);
legend(871);

addDiv('vstar', 'v*', 337, 917);
</script>
</body>
</html>
